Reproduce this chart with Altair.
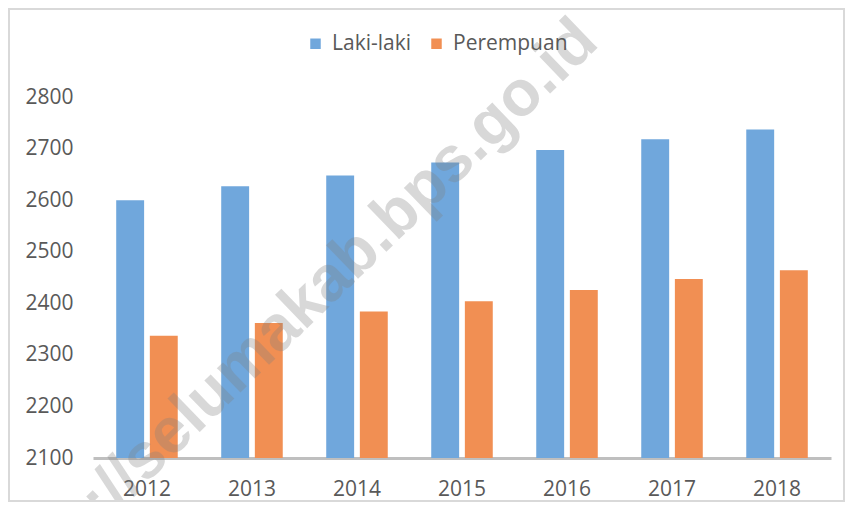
import altair as alt
import pandas as pd

years = ["2012", "2013", "2014", "2015", "2016", "2017", "2018"]
laki = [2600, 2627, 2648, 2673, 2697, 2718, 2737]
perempuan = [2337, 2362, 2384, 2404, 2426, 2447, 2464]
series = ["Laki-laki", "Perempuan"]
colors = ["#70a7dc", "#f18f53"]
watermark = "https://selumakab.bps.go.id"

rows = []
for i, y in enumerate(years):
    rows.append({"Tahun": y, "Jenis": series[0], "Nilai": laki[i]})
    rows.append({"Tahun": y, "Jenis": series[1], "Nilai": perempuan[i]})
df = pd.DataFrame(rows)

W, H = 738, 361
FONT = "Open Sans"

bars = alt.Chart(df).mark_bar(clip=True).encode(
    x=alt.X("Tahun:N", sort=years,
            scale=alt.Scale(paddingInner=0.414, paddingOuter=0.221),
            axis=alt.Axis(title=None, labelAngle=0, ticks=False, domain=True,
                          domainColor="#bfbfbf", domainWidth=3,
                          labelFont=FONT, labelFontSize=21, labelColor="#595959",
                          labelPadding=20, grid=False)),
    xOffset=alt.XOffset("Jenis:N", sort=series, scale=alt.Scale(paddingInner=0.17)),
    y=alt.Y("Nilai:Q",
            scale=alt.Scale(domain=[2100, 2800], zero=False, nice=False),
            axis=alt.Axis(title=None, values=[2100, 2200, 2300, 2400, 2500, 2600, 2700, 2800],
                          ticks=False, domain=False, grid=False,
                          labelFont=FONT, labelFontSize=21, labelColor="#595959",
                          labelPadding=20, format="d")),
    color=alt.Color("Jenis:N", sort=series,
                    scale=alt.Scale(domain=series, range=colors),
                    legend=alt.Legend(title=None, orient="none", direction="horizontal",
                                      legendX=212, legendY=-64,
                                      symbolType="square", symbolSize=110,
                                      symbolStrokeWidth=0, labelFont=FONT,
                                      labelFontSize=21, labelColor="#595959",
                                      labelOffset=6, columnPadding=14, padding=0)),
)

wm = alt.Chart(pd.DataFrame({"t": [watermark]})).mark_text(
    font="Liberation Sans", fontWeight="bold", fontSize=64, angle=316,
    align="center", baseline="middle", color="#808080", opacity=0.3
).encode(text="t:N", x=alt.value(190), y=alt.value(228))

border = alt.Chart(pd.DataFrame({"a": [0]})).mark_rect(
    fill=None, stroke="#d9d9d9", strokeWidth=2
).encode(x=alt.value(-84), x2=alt.value(W + 13), y=alt.value(-88), y2=alt.value(H + 43))

chart = alt.layer(bars, wm, border).properties(
    width=W, height=H,
    padding={"left": 85, "top": 89, "right": 14, "bottom": 44},
    autosize=alt.AutoSizeParams(type="none"),
).configure_view(stroke=None)

chart.save("out.html", embed_options={"renderer": "svg", "actions": False})
